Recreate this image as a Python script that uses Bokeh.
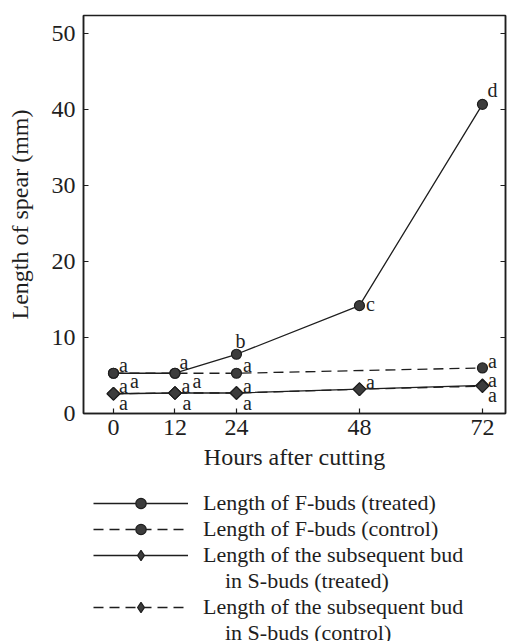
from bokeh.plotting import figure
from bokeh.layouts import column
from bokeh.models import (ColumnDataSource, Range1d, FixedTicker, LinearAxis,
                          Legend, LegendItem)
from bokeh.core.properties import value
from bokeh.embed import file_html
from bokeh.resources import INLINE

# ---------------- data ----------------
hours = [0, 12, 24, 48, 72]
f_treated = [5.3, 5.3, 7.8, 14.2, 40.7]
f_control_hours = [0, 12, 24, 72]
f_control = [5.3, 5.3, 5.3, 6.0]
s_treated = [2.6, 2.7, 2.7, 3.2, 3.7]
s_control = [2.6, 2.7, 2.7, 3.2, 3.6]

f_treated_letters = ["a", "a", "b", "c", "d"]
f_control_letters = ["a", "a", "a", "a"]
s_treated_letters = ["a", "a", "a", "a", "a"]
s_control_letters = ["a", "a", "a", "", "a"]

x_ticks = [0, 12, 24, 48, 72]
y_ticks = [0, 10, 20, 30, 40, 50]

x_title = "Hours after cutting"
y_title = "Length of spear (mm)"
legend_labels = [
    "Length of F-buds (treated)",
    "Length of F-buds (control)",
    "Length of the subsequent bud",
    "in S-buds (treated)",
    "Length of the subsequent bud",
    "in S-buds (control)",
]

# ---------------- styles ----------------
FONT = "Liberation Serif"
INK = "#1e1e1e"
MARK_FILL = "#3c3c3c"
# letter offsets (screen px) relative to each point
f_treated_dx = [10, 9, 4, 11, 10]
f_treated_dy = [-8, -11, -13, -2, -14]
f_control_dx = [21, 22, 11, 10]
f_control_dy = [8, 8, -8, -7]
s_treated_dx = [10, 11, 11, 11, 10]
s_treated_dy = [-8, -7, -7, -7, -5]
s_control_dx = [10, 12, 11, 0, 10]
s_control_dy = [9, 10, 10, 0, 9]

p = figure(width=507, height=480,
           x_range=Range1d(-5.85, 76.5), y_range=Range1d(0, 52.4),
           output_backend="svg", toolbar_location=None,
           min_border_left=83, min_border_right=2,
           min_border_top=15, min_border_bottom=67)
p.grid.visible = False
p.outline_line_color = INK
p.outline_line_width = 1.5
p.background_fill_color = "white"
p.border_fill_color = "white"

for ax in (p.xaxis[0], p.yaxis[0]):
    ax.axis_line_color = INK
    ax.axis_line_width = 1.5
    ax.major_tick_line_color = INK
    ax.major_tick_line_width = 1.2
    ax.major_tick_in = 5
    ax.major_tick_out = 0
    ax.minor_tick_in = 0
    ax.minor_tick_out = 0
    ax.major_label_text_font = FONT
    ax.major_label_text_font_size = "24px"
    ax.major_label_text_color = INK
    ax.axis_label_text_font = FONT
    ax.axis_label_text_font_size = "24px"
    ax.axis_label_text_font_style = "normal"
    ax.axis_label_text_color = INK

p.xaxis[0].ticker = FixedTicker(ticks=x_ticks)
p.xaxis[0].axis_label = x_title
p.xaxis[0].major_label_standoff = 6
p.xaxis[0].axis_label_standoff = 6

p.yaxis[0].ticker = FixedTicker(ticks=y_ticks)
p.yaxis[0].axis_label = y_title
p.yaxis[0].major_label_standoff = 8
p.yaxis[0].axis_label_standoff = 16

right = LinearAxis(ticker=FixedTicker(ticks=y_ticks),
                   major_label_overrides={t: "" for t in y_ticks},
                   major_label_standoff=0,
                   major_tick_in=5, major_tick_out=0,
                   minor_tick_in=0, minor_tick_out=0,
                   axis_line_color=INK, axis_line_width=1.5,
                   major_tick_line_color=INK)
p.add_layout(right, "right")

# ---------------- series ----------------
DIAMOND = dict(marker="square", angle=0.785398, size=9,
               fill_color=MARK_FILL, line_color=INK, line_width=1.2)
CIRCLE = dict(marker="circle", size=10,
              fill_color=MARK_FILL, line_color=INK, line_width=1.2)
SOLID = dict(line_color=INK, line_width=1.3)
DASHED = dict(line_color=INK, line_width=1.3, line_dash="10 6")

p.line(hours, s_treated, **SOLID)
p.scatter(hours, s_treated, **DIAMOND)
p.line(hours, s_control, **DASHED)
p.scatter(hours, s_control, **DIAMOND)
p.line(f_control_hours, f_control, **DASHED)
p.scatter(f_control_hours, f_control, **CIRCLE)
p.line(hours, f_treated, **SOLID)
p.scatter(hours, f_treated, **CIRCLE)

# ---------------- significance letters ----------------
lx, ly, lt, ldx, ldy = [], [], [], [], []
for xs, ys, ts, dxs, dys in [
    (hours, f_treated, f_treated_letters, f_treated_dx, f_treated_dy),
    (f_control_hours, f_control, f_control_letters, f_control_dx, f_control_dy),
    (hours, s_treated, s_treated_letters, s_treated_dx, s_treated_dy),
    (hours, s_control, s_control_letters, s_control_dx, s_control_dy),
]:
    for x, y, t, dx, dy in zip(xs, ys, ts, dxs, dys):
        if t:
            lx.append(x); ly.append(y); lt.append(t)
            ldx.append(dx); ldy.append(dy)

letters = ColumnDataSource(dict(x=lx, y=ly, text=lt, dx=ldx, dy=ldy))
p.text(x="x", y="y", text="text", x_offset="dx", y_offset="dy",
       source=letters, text_font=value(FONT), text_font_size="20px",
       text_color=INK, text_align="center", text_baseline="middle")

# ---------------- legend (own strip below the chart) ----------------
lg = figure(width=507, height=161, x_range=Range1d(0, 1), y_range=Range1d(0, 1),
            output_backend="svg", toolbar_location=None,
            x_axis_type=None, y_axis_type=None,
            min_border=0, min_border_left=0, min_border_right=0,
            min_border_top=0, min_border_bottom=0)
lg.grid.visible = False
lg.outline_line_color = None

KEY_DIAMOND = dict(DIAMOND, marker="diamond", angle=0)
k_ft_l = lg.line(hours, f_treated, visible=False, **SOLID)
k_ft_p = lg.scatter(hours, f_treated, visible=False, **CIRCLE)
k_fc_l = lg.line(f_control_hours, f_control, visible=False, **DASHED)
k_fc_p = lg.scatter(f_control_hours, f_control, visible=False, **CIRCLE)
k_st_l = lg.line(hours, s_treated, visible=False, **SOLID)
k_st_p = lg.scatter(hours, s_treated, visible=False, **KEY_DIAMOND)
k_sc_l = lg.line(hours, s_control, visible=False, **DASHED)
k_sc_p = lg.scatter(hours, s_control, visible=False, **KEY_DIAMOND)

indent = "\u00a0" * 4
items = [
    LegendItem(label=legend_labels[0], renderers=[k_ft_l, k_ft_p]),
    LegendItem(label=legend_labels[1], renderers=[k_fc_l, k_fc_p]),
    LegendItem(label=legend_labels[2], renderers=[k_st_l, k_st_p]),
    LegendItem(label=indent + legend_labels[3], renderers=[]),
    LegendItem(label=legend_labels[4], renderers=[k_sc_l, k_sc_p]),
    LegendItem(label=indent + legend_labels[5], renderers=[]),
]
legend = Legend(items=items, location=(10, -5),
                glyph_width=95, glyph_height=26, label_height=26,
                label_standoff=15, spacing=0, padding=0, margin=0,
                border_line_color=None, background_fill_alpha=0,
                inactive_fill_alpha=0,
                label_text_font=FONT, label_text_font_size="22px",
                label_text_color=INK)
lg.add_layout(legend)

layout = column(p, lg, spacing=0)
open("out.html", "w").write(file_html(layout, INLINE))
